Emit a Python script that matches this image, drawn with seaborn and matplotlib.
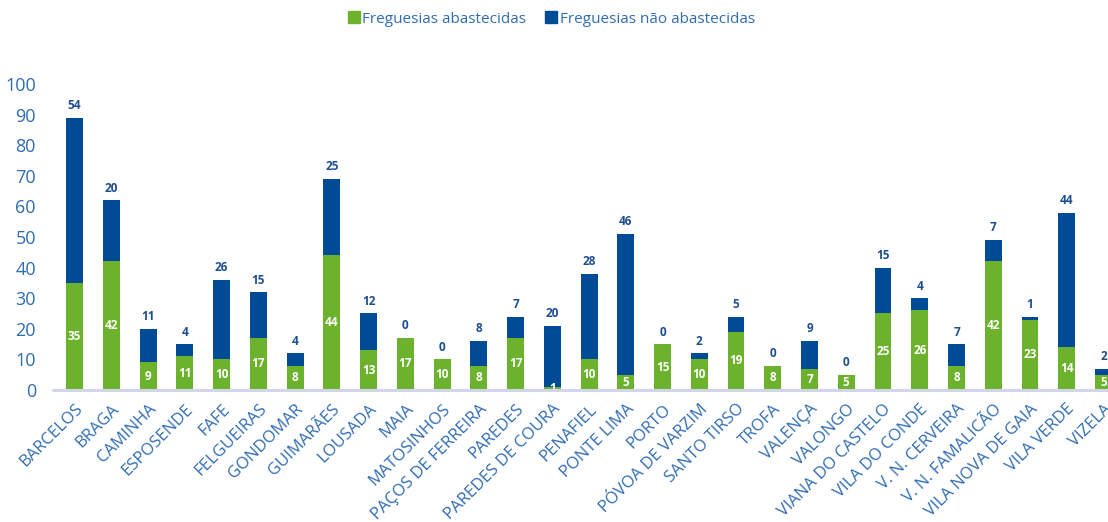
import matplotlib
matplotlib.use("Agg")
import matplotlib.pyplot as plt
from matplotlib.lines import Line2D
import seaborn as sns
import pandas as pd

municipios = [
    "BARCELOS", "BRAGA", "CAMINHA", "ESPOSENDE", "FAFE", "FELGUEIRAS",
    "GONDOMAR", "GUIMARÃES", "LOUSADA", "MAIA", "MATOSINHOS",
    "PAÇOS DE FERREIRA", "PAREDES", "PAREDES DE COURA", "PENAFIEL",
    "PONTE LIMA", "PORTO", "PÓVOA DE VARZIM", "SANTO TIRSO", "TROFA",
    "VALENÇA", "VALONGO", "VIANA DO CASTELO", "VILA DO CONDE",
    "V. N. CERVEIRA", "V. N. FAMALICÃO", "VILA NOVA DE GAIA",
    "VILA VERDE", "VIZELA",
]
abastecidas = [35, 42, 9, 11, 10, 17, 8, 44, 13, 17, 10, 8, 17, 1, 10,
               5, 15, 10, 19, 8, 7, 5, 25, 26, 8, 42, 23, 14, 5]
nao_abastecidas = [54, 20, 11, 4, 26, 15, 4, 25, 12, 0, 0, 8, 7, 20, 28,
                   46, 0, 2, 5, 0, 9, 0, 15, 4, 7, 7, 1, 44, 2]
y_ticks = list(range(0, 101, 10))

GREEN = "#6CB22D"
BLUE = "#004B96"
TXT = "#2F6CB3"
LABEL_DARK = "#1D4E8F"

df = pd.DataFrame({
    "municipio": municipios,
    "abastecidas": abastecidas,
    "nao": nao_abastecidas,
})
df["total"] = df["abastecidas"] + df["nao"]

sns.set_style("white")
plt.rcParams["font.family"] = ["Open Sans", "DejaVu Sans"]

fig = plt.figure(figsize=(11.08, 5.22), dpi=100)
ax = fig.add_axes([0.0475, 0.2529, 0.965, 0.5862])

bw = 0.46
# Blue bar spans the full total; green is drawn over its lower part
sns.barplot(data=df, x="municipio", y="total", color=BLUE, width=bw,
            saturation=1, linewidth=0, edgecolor="none", ax=ax,
            order=municipios)
sns.barplot(data=df, x="municipio", y="abastecidas", color=GREEN, width=bw,
            saturation=1, linewidth=0, edgecolor="none", ax=ax,
            order=municipios)

for i, (a, n) in enumerate(zip(abastecidas, nao_abastecidas)):
    ax.text(i, a / 2, str(a), ha="center", va="center", color="white",
            fontsize=8.5, fontweight="bold")
    ax.annotate(str(n), (i, a + n), xytext=(0, 4), textcoords="offset points",
                ha="center", va="bottom", color=LABEL_DARK, fontsize=8.5,
                fontweight="bold")

ax.set_xlim(-0.6, len(municipios) - 0.5)
ax.set_ylim(0, 100)
ax.set_yticks(y_ticks)
ax.set_xlabel("")
ax.set_ylabel("")
for s in ax.spines.values():
    s.set_visible(False)
ax.axhline(0, color="#D2D5EA", lw=2.2, zorder=5, clip_on=False)

ax.tick_params(axis="y", length=0, pad=12, labelsize=13, labelcolor=TXT)
ax.tick_params(axis="x", length=0, pad=8, labelsize=12, labelcolor=TXT)
plt.setp(ax.get_xticklabels(), rotation=45, ha="right",
         rotation_mode="anchor")

handles = [
    Line2D([], [], marker="s", linestyle="", markersize=9,
           markerfacecolor=GREEN, markeredgecolor=GREEN,
           label="Freguesias abastecidas"),
    Line2D([], [], marker="s", linestyle="", markersize=9,
           markerfacecolor=BLUE, markeredgecolor=BLUE,
           label="Freguesias não abastecidas"),
]
leg = fig.legend(handles=handles, loc="center", bbox_to_anchor=(0.497, 0.963),
                 ncol=2, frameon=False, fontsize=11, handletextpad=0.1,
                 columnspacing=1.2, handlelength=0.9)
for t in leg.get_texts():
    t.set_color(TXT)

fig.savefig("out.png", dpi=100)
